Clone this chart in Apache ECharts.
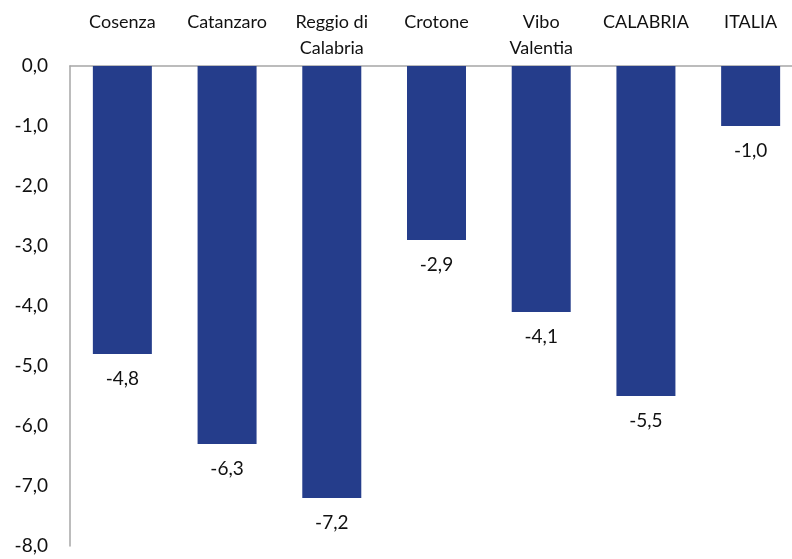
<!DOCTYPE html>
<html><head><meta charset="utf-8">
<script src="https://cdn.jsdelivr.net/npm/echarts@6/dist/echarts.min.js"></script>
<style>html,body{margin:0;padding:0;background:#fff}#c{width:792px;height:559px}</style>
</head><body><div id="c"></div>
<script>
const categories = ['Cosenza', 'Catanzaro', 'Reggio di\nCalabria', 'Crotone', 'Vibo\nValentia', 'CALABRIA', 'ITALIA'];
const values = [-4.8, -6.3, -7.2, -2.9, -4.1, -5.5, -1.0];
const yMin = -8, yMax = 0, yStep = 1;
const fmt = v => v.toFixed(1).replace('.', ',');
const chart = echarts.init(document.getElementById('c'));
chart.setOption({
  animation: false,
  grid: {left: 70, right: -11, top: 66, bottom: 13, outerBoundsMode: 'none', containLabel: false},
  xAxis: {
    type: 'category', data: categories, position: 'top',
    axisLine: {show: true, lineStyle: {color: '#a6a6a6', width: 1.5}},
    axisTick: {show: false},
    axisLabel: {fontFamily: 'Lato', fontSize: 18, color: '#111', lineHeight: 26, verticalAlign: 'top', margin: 57, interval: 0}
  },
  yAxis: {
    type: 'value', min: yMin, max: yMax, interval: yStep,
    axisLine: {show: true, lineStyle: {color: '#a6a6a6', width: 1.5}},
    axisTick: {show: false},
    splitLine: {show: false},
    axisLabel: {fontFamily: 'Lato', fontSize: 19, color: '#111', margin: 22, formatter: fmt}
  },
  series: [{
    type: 'bar', data: values, barWidth: 59,
    itemStyle: {color: '#253D8B'},
    label: {show: true, position: 'bottom', distance: 15, fontFamily: 'Lato', fontSize: 19, color: '#111', formatter: p => fmt(p.value)}
  }]
});
</script></body></html>
